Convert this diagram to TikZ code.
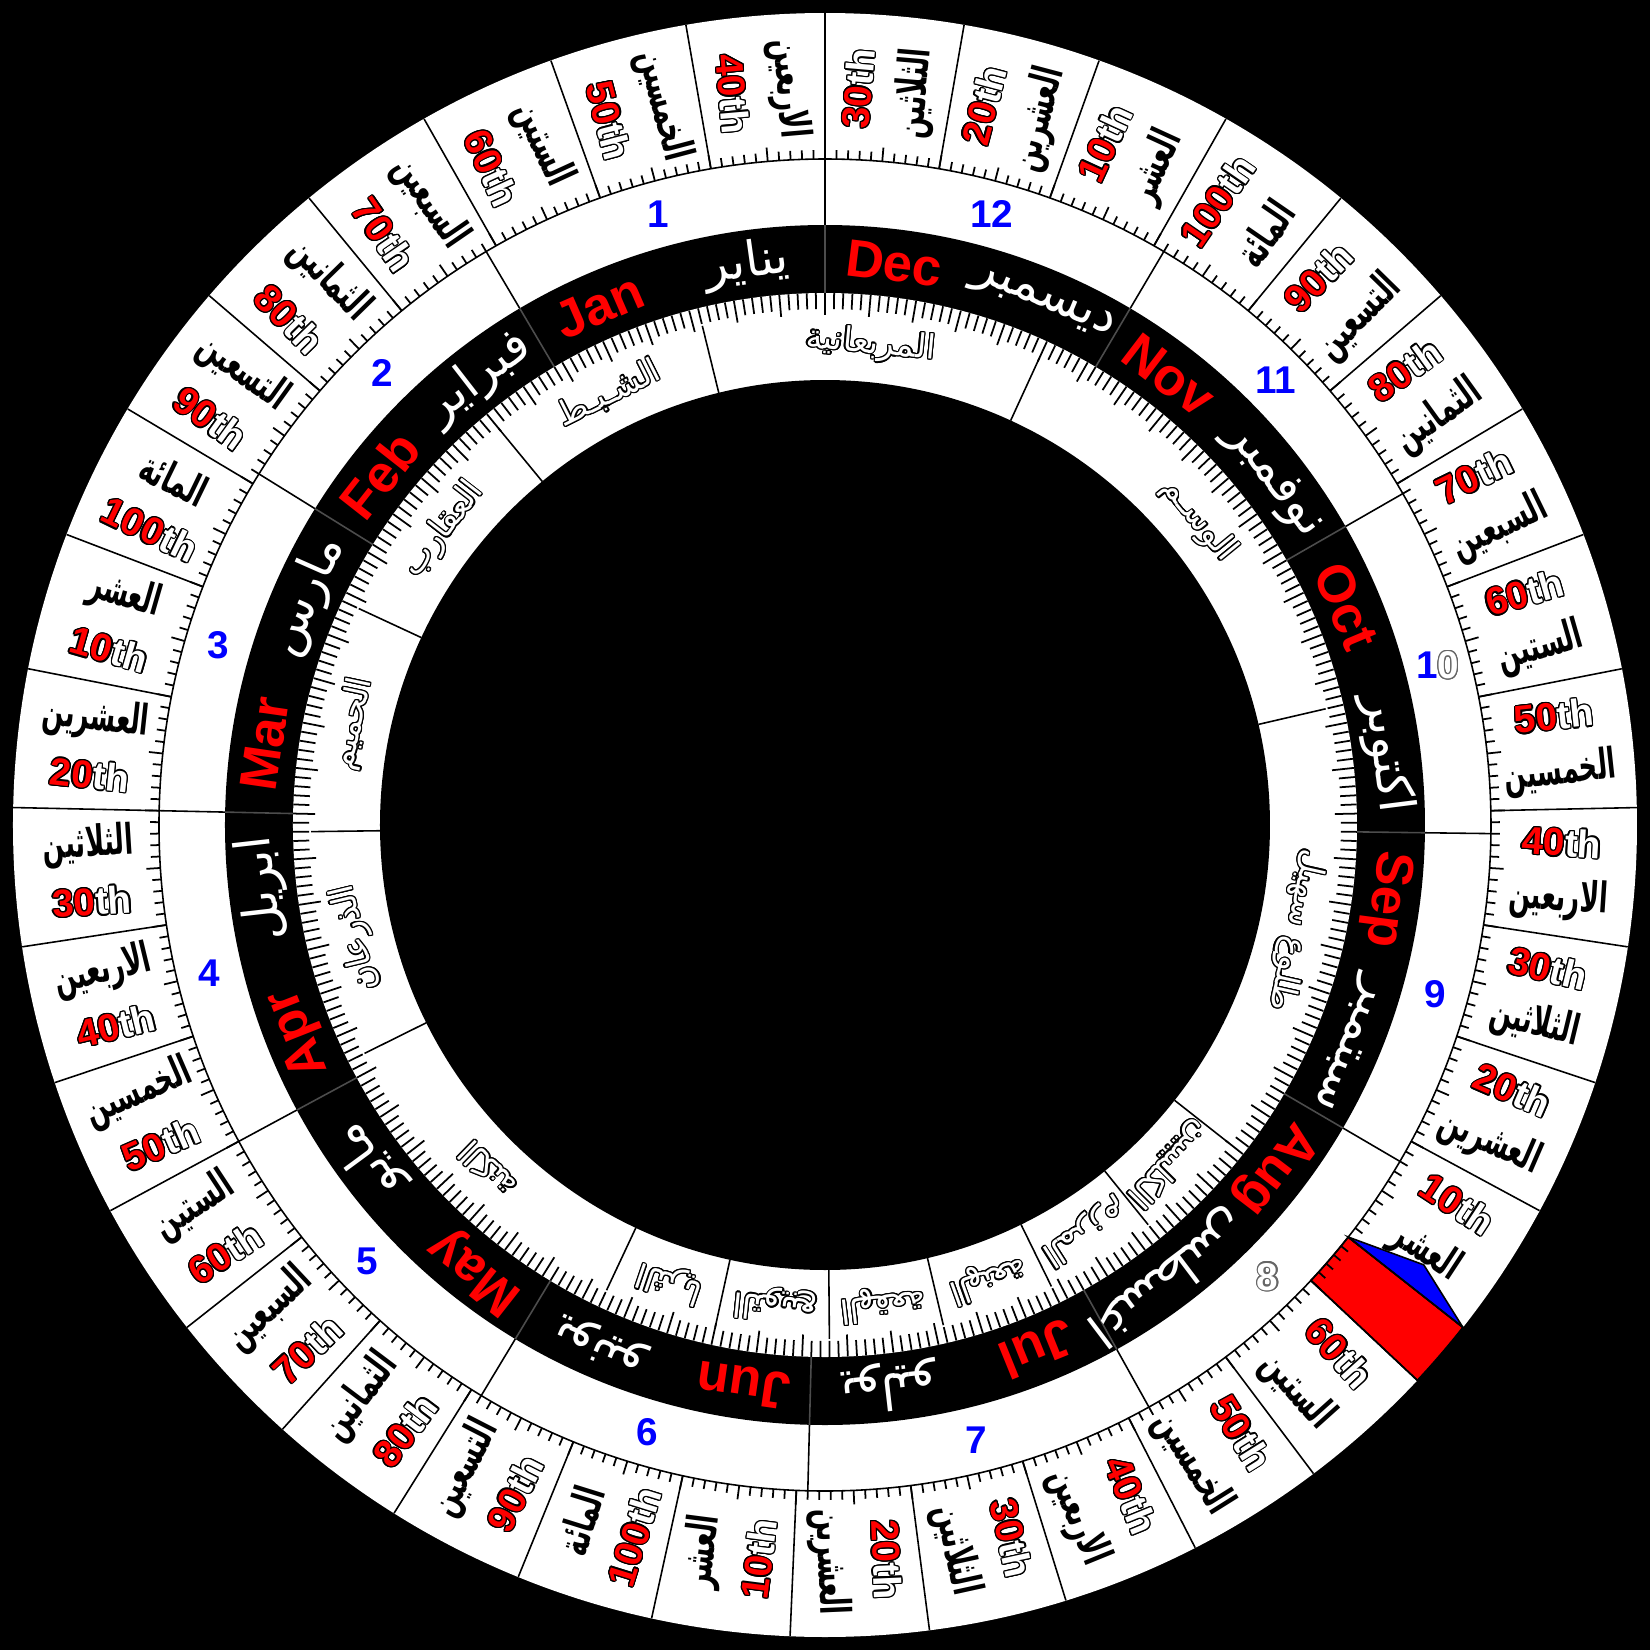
\documentclass[tikz,border=0pt]{standalone}
\usepackage{fontspec}
\usepackage{graphicx}
\setmainfont{Liberation Sans}
\newfontfamily\arabicfont[Script=Arabic]{DejaVu Sans}
\usepackage[copies]{contour}
\TeXXeTstate=1
\contourlength{0.35pt}

\newcommand{\ar}[1]{{\arabicfont\beginR #1\endR}}
\newcommand{\arn}[1]{\scalebox{0.6}[1]{\ar{#1}}}
\newcommand{\ord}[1]{\textcolor{red}{\contour{black}{#1}}\textcolor{white}{\contour{black}{th}}}
\newcommand{\hollow}[1]{\textcolor{white}{\contour{black!60}{#1}}}

% day words
\expandafter\def\csname wd10\endcsname{العشر}
\expandafter\def\csname wd20\endcsname{العشرين}
\expandafter\def\csname wd30\endcsname{الثلاثين}
\expandafter\def\csname wd40\endcsname{الاربعين}
\expandafter\def\csname wd50\endcsname{الخمسين}
\expandafter\def\csname wd60\endcsname{الستين}
\expandafter\def\csname wd70\endcsname{السبعين}
\expandafter\def\csname wd80\endcsname{الثمانين}
\expandafter\def\csname wd90\endcsname{التسعين}
\expandafter\def\csname wd100\endcsname{المائة}

\newcommand{\daycell}[3]{%
  \pgfmathsetmacro\tc{dang(#1+5)}%
  \pgfmathsetmacro\tr{cos(\tc)>0 ? \tc : \tc-180}%
  \node[ordlab,rotate=\tr] (ord-#3) at ({\tc+2.3}:737) {\ord{#2}};
  \node[wordlab,rotate=\tr] (wrd-#3) at ({\tc-2.1}:737) {\arn{\csname wd#2\endcsname}};
}

\begin{document}
\begin{tikzpicture}[x=0.01cm,y=0.01cm,
  declare function={dang(\d)=90+\d*0.98630137;},
  ordlab/.style={font=\bfseries\fontsize{11}{11}\selectfont,inner sep=0pt},
  wordlab/.style={font=\bfseries\fontsize{12}{12}\selectfont,inner sep=0pt},
  monen/.style={font=\bfseries\fontsize{15}{15}\selectfont,red,inner sep=0pt},
  monar/.style={font=\fontsize{14}{14}\selectfont,white,inner sep=0pt},
  monnum/.style={font=\bfseries\fontsize{11}{11}\selectfont,blue,inner sep=0pt},
  zonelab/.style={font=\fontsize{9.5}{10}\selectfont,white,inner sep=0pt},
  divline/.style={black,line width=0.45pt},
  dimline/.style={black!70,line width=0.45pt},
  tickline/.style={black,line width=0.5pt}]

  % rings
  \fill[black] (-825,-825) rectangle (825,825);
  \fill[white] (0,0) circle[radius=812];
  \fill[black] (0,0) circle[radius=600];
  \fill[white] (0,0) circle[radius=532];
  \fill[black] (0,0) circle[radius=445];

  % five-day marker
  \pgfmathsetmacro\ma{dang(230)}
  \pgfmathsetmacro\mb{dang(235)}
  \filldraw[fill=red,draw=black,line width=0.45pt] (\ma:666) -- (\ma:812) arc[start angle=\ma,end angle=\mb,radius=812] -- (\mb:666) arc[start angle=\mb,end angle=\ma,radius=666] -- cycle;
  \filldraw[fill=blue,draw=black,line width=0.45pt] (\mb:666) -- (323.7:743) -- (\mb:812) -- cycle;

  \draw[divline] (0,0) circle[radius=666];

  % day ticks
  \foreach \d in {0,...,364}{
    \pgfmathsetmacro\ta{dang(\d)}
    \pgfmathsetmacro\tl{mod(\d,5)==0 ? 14 : 9}
    \pgfmathsetmacro\tm{mod(\d,5)==0 ? 22 : 16}
    \draw[tickline] (\ta:666) -- ({\ta}:{666+\tl});
    \draw[tickline] (\ta:532) -- ({\ta}:{532-\tm});
  }

  % ten-day sectors
  \foreach \d in {0,10,...,230,235,245,...,355}
    \draw[divline] ({dang(\d)}:666) -- ({dang(\d)}:812);

  % months
  \foreach \s in {0,31,59,90,120,151,181,212,243,273,304,334}{
    \draw[divline] ({dang(\s)}:600) -- ({dang(\s)}:666);
    \draw[dimline] ({dang(\s)}:532) -- ({dang(\s)}:600);
  }

  % seasons
  \foreach \s in {-25,14,40,66,92,118,157,170,183,196,209,222,235,287}
    \draw[divline] ({dang(\s)}:445) -- ({dang(\s)}:514);

  \foreach \i in {0,...,22}{
    \pgfmathtruncatemacro\n{mod(\i+3,10)*10+10}
    \daycell{\i*10}{\n}{a\i}
  }
  \foreach \i in {0,...,12}{
    \pgfmathtruncatemacro\n{mod(\i,10)*10+10}
    \daycell{235+\i*10}{\n}{b\i}
  }

  \foreach \m/\s/\l/\en/\an/\nb in {1/0/31/Jan/يناير/1, 2/31/28/Feb/فبراير/2, 3/59/31/Mar/مارس/3,
      4/90/30/Apr/ابريل/4, 5/120/31/May/مايو/5, 6/151/30/Jun/يونيو/6, 7/181/31/Jul/يوليو/7,
      8/212/31/Aug/اغسطس/{\hollow{8}}, 9/243/30/Sep/سبتمبر/9, 10/273/31/Oct/اكتوبر/{1\hollow{0}},
      11/304/30/Nov/نوفمبر/11, 12/334/31/Dec/ديسمبر/12}{
    \node[monar,rotate={dang(\s+0.26*\l)-90}] (mar-\m) at ({dang(\s+0.26*\l)}:566) {\ar{\an}};
    \node[monen,rotate={dang(\s+0.77*\l)-90}] (men-\m) at ({dang(\s+0.77*\l)}:566) {\en};
    \node[monnum] (num-\m) at ({dang(\s+\l/2)}:633) {\nb};
  }

  \foreach \s/\e/\nm [count=\z] in {-25/14/المربعانية, 14/40/الشـبـط, 40/66/العقارب, 66/92/الحميم,
      92/118/الذرعان, 118/157/الكنة, 157/170/الثريا, 170/183/التويبع, 183/196/الهقعة,
      196/209/الهنعة, 209/222/المرزم, 222/235/الكليبين, 235/287/طلوع سهيل, 287/340/الوسـم}{
    \pgfmathsetmacro\zc{dang((\s+\e)/2)}
    \node[zonelab,rotate=\zc-90] (zone-\z) at (\zc:482) {\contour{black}{\ar{\nm}}};
  }
\end{tikzpicture}
\end{document}
